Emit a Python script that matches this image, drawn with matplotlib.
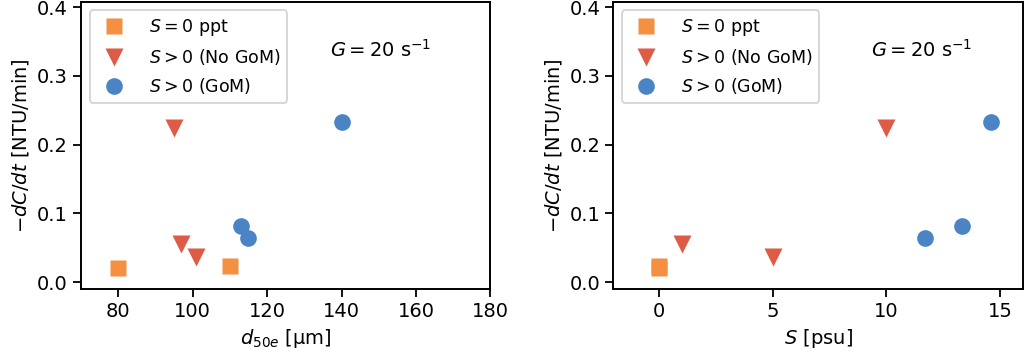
import numpy as np
import matplotlib.pyplot as plt

# data
d50_s0 = [80, 110]
rate_s0 = [0.020, 0.023]
d50_nogom = [95, 97, 101]
rate_nogom = [0.225, 0.055, 0.036]
d50_gom = [113, 115, 140]
rate_gom = [0.081, 0.064, 0.233]

sal_s0 = [0, 0]
sal_nogom = [10, 1, 5]
sal_gom = [13.3, 11.7, 14.6]

c_orange = '#f58f42'
c_red = '#de5b45'
c_blue = '#4a84c4'

plt.rcParams['font.size'] = 14
plt.rcParams['mathtext.default'] = 'it'
plt.rcParams['axes.linewidth'] = 1.4
plt.rcParams['xtick.major.width'] = 1.3
plt.rcParams['ytick.major.width'] = 1.3

fig, (ax1, ax2) = plt.subplots(1, 2, figsize=(10.24, 3.59), dpi=100)
fig.subplots_adjust(left=0.079, right=0.999, bottom=0.195, top=0.995, wspace=0.3)

ms = 12
for ax, xs in [(ax1, (d50_s0, d50_nogom, d50_gom)), (ax2, (sal_s0, sal_nogom, sal_gom))]:
    ax.plot(xs[0], rate_s0, 's', color=c_orange, ms=ms, mec='none', label='$S = \\mathrm{0\\ ppt}$')
    ax.plot(xs[1], rate_nogom, 'v', color=c_red, ms=ms + 1, mec='none', label='$S > \\mathrm{0\\ (No\\ GoM)}$')
    ax.plot(xs[2], rate_gom, 'o', color=c_blue, ms=ms, mec='none', label='$S > \\mathrm{0\\ (GoM)}$')
    ax.set_ylim(-0.01, 0.408)
    ax.set_yticks([0, 0.1, 0.2, 0.3, 0.4])
    ax.set_ylabel('$-dC/dt$ [NTU/min]')
    leg = ax.legend(loc='upper left', handletextpad=1.0, borderpad=0.4, fontsize=12.5)
    leg.get_frame().set_linewidth(1.4)
    ax.tick_params(length=6)

ax1.set_xlim(70, 180)
ax1.set_xlabel('$d_{50e}$ [μm]')
ax1.text(137, 0.338, '$G = 20\\ \\mathrm{s}^{-1}$', va='center', fontsize=14)

ax2.set_xlim(-2, 16)
ax2.set_xticks([0, 5, 10, 15])
ax2.set_xlabel('$S$ [psu]')
ax2.text(9.3, 0.338, '$G = 20\\ \\mathrm{s}^{-1}$', va='center', fontsize=14)

plt.savefig('out.png')
